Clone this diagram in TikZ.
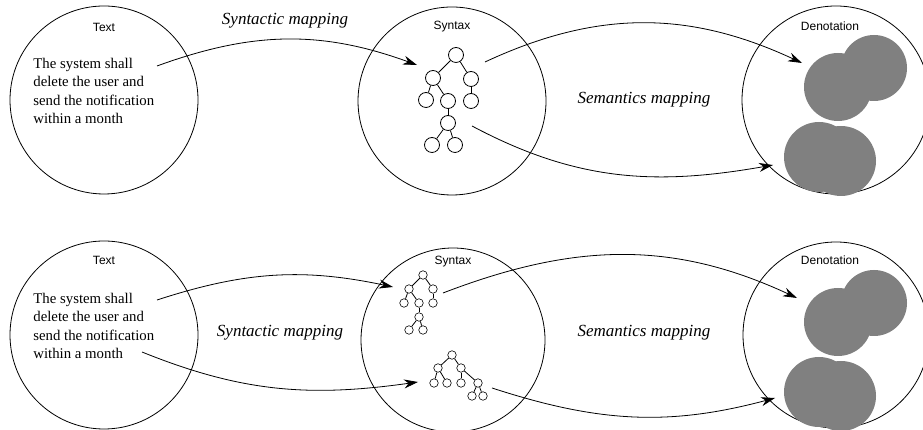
\documentclass[tikz,border=0pt]{standalone}
\usepackage{fontspec}
\setmainfont{Liberation Serif}
\setsansfont{Liberation Sans}
\usetikzlibrary{arrows.meta}

\begin{document}
\begin{tikzpicture}
  [x=1pt,y=1pt,line width=0.8pt,every node/.style={inner sep=0pt}]
  \tikzstyle{region} = [draw,circle,minimum size=188pt]
  \tikzstyle{caption} = [font=\sffamily\fontsize{12}{14}\selectfont]
  \tikzstyle{sentence} = [anchor=west,align=left,font=\fontsize{14.8}{18.5}\selectfont]
  \tikzstyle{mapname} = [font=\itshape\fontsize{17}{19}\selectfont]
  \tikzstyle{treenode} = [draw,circle,minimum size=15pt]
  \tikzstyle{minitreenode} = [draw,circle,minimum size=8.5pt,line width=0.6pt]
  \tikzstyle{map} = [-{Stealth[length=14pt,width=9pt]}]
  \tikzstyle{blob} = [fill=gray]
  \useasboundingbox (0,0) rectangle (923,430);

  % upper row
  \node[region] (text1) at (104,330) {};
  \node[region] (syn1)  at (452,329) {};
  \node[region] (den1)  at (836,330) {};
  \node[caption] (text1cap) at (104,403) {Text};
  \node[caption] (syn1cap)  at (452,403) {Syntax};
  \node[caption] (den1cap)  at (830,404) {Denotation};
  \node[sentence] (say1) at (33,339) {The system shall\\delete the user and\\send the notification\\within a month};
  \node[mapname] (synmap1) at (285,409) {Syntactic mapping};
  \node[mapname] (semmap1) at (644,330) {Semantics mapping};

  % lower row
  \node[region] (text2) at (104,95) {};
  \node[region,minimum size=184pt] (syn2) at (453,90) {};
  \node[region,minimum size=186pt] (den2) at (836,95) {};
  \node[caption] (text2cap) at (104,170) {Text};
  \node[caption] (syn2cap)  at (453,168) {Syntax};
  \node[caption] (den2cap)  at (830,170) {Denotation};
  \node[sentence] (say2) at (33,104) {The system shall\\delete the user and\\send the notification\\within a month};
  \node[mapname] (synmap2) at (280,97) {Syntactic mapping};
  \node[mapname] (semmap2) at (644,97) {Semantics mapping};

  % denotations
  \foreach \dy in {0,-235} {
    \fill[blob] (838,343+\dy) circle (34);
    \fill[blob] (874,362+\dy) circle (33);
    \fill[blob] (819,273+\dy) circle (35);
    \fill[blob] (841,269+\dy) circle (35);
  }

  % syntax tree, upper row
  \node[treenode] (ta) at (456,375) {};
  \node[treenode] (tb) at (433,352) {};
  \node[treenode] (tc) at (471,351) {};
  \node[treenode] (td) at (426,330) {};
  \node[treenode] (te) at (448,329) {};
  \node[treenode] (tf) at (471,329) {};
  \node[treenode] (tg) at (448,307) {};
  \node[treenode] (th) at (432,285) {};
  \node[treenode] (ti) at (455,285) {};
  \foreach \source/\dest in {ta/tb,ta/tc,tb/td,tb/te,tc/tf,te/tg,tg/th,tg/ti}
    \draw (\source) -- (\dest);

  % syntax trees, lower row
  \node[minitreenode] (ua) at (423,155) {};
  \node[minitreenode] (ub) at (409,141) {};
  \node[minitreenode] (uc) at (433,141) {};
  \node[minitreenode] (ud) at (404,127) {};
  \node[minitreenode] (ue) at (419,127) {};
  \node[minitreenode] (uf) at (433,127) {};
  \node[minitreenode] (ug) at (419,113) {};
  \node[minitreenode] (uh) at (409,100) {};
  \node[minitreenode] (ui) at (423,100) {};
  \node[minitreenode] (va) at (452,75) {};
  \node[minitreenode] (vb) at (438,62) {};
  \node[minitreenode] (vc) at (461,62) {};
  \node[minitreenode] (vd) at (434,47) {};
  \node[minitreenode] (ve) at (447,47) {};
  \node[minitreenode] (vf) at (461,47) {};
  \node[minitreenode] (vg) at (478,47) {};
  \node[minitreenode] (vh) at (472,34) {};
  \node[minitreenode] (vi) at (483,34) {};
  \foreach \source/\dest in {ua/ub,ua/uc,ub/ud,ub/ue,uc/uf,ue/ug,ug/uh,ug/ui,
                             va/vb,va/vc,vb/vd,vb/ve,vc/vf,vc/vg,vg/vh,vg/vi}
    \draw (\source) -- (\dest);

  % mapping ends
  \coordinate (s1a) at (157,364);  \coordinate (s1b) at (417,365);
  \coordinate (m1a) at (485,368);  \coordinate (m1b) at (802,367);
  \coordinate (m2a) at (472,304);  \coordinate (m2b) at (773,265);
  \coordinate (s2a) at (157,130);  \coordinate (s2b) at (393,143);
  \coordinate (s3a) at (142,78);   \coordinate (s3b) at (418,48);
  \coordinate (m3a) at (443,137);  \coordinate (m3b) at (797,132);
  \coordinate (m4a) at (492,42);   \coordinate (m4b) at (775,32);
  \foreach \source/\dest/\o/\i in {s1a/s1b/20/160,m1a/m1b/25/155,m2a/m2b/-28/190,
                                   s2a/s2b/18/168,s3a/s3b/-22/188,m3a/m3b/21/155,m4a/m4b/-18/195}
    \draw[map] (\source) to[out=\o,in=\i] (\dest);
\end{tikzpicture}
\end{document}
